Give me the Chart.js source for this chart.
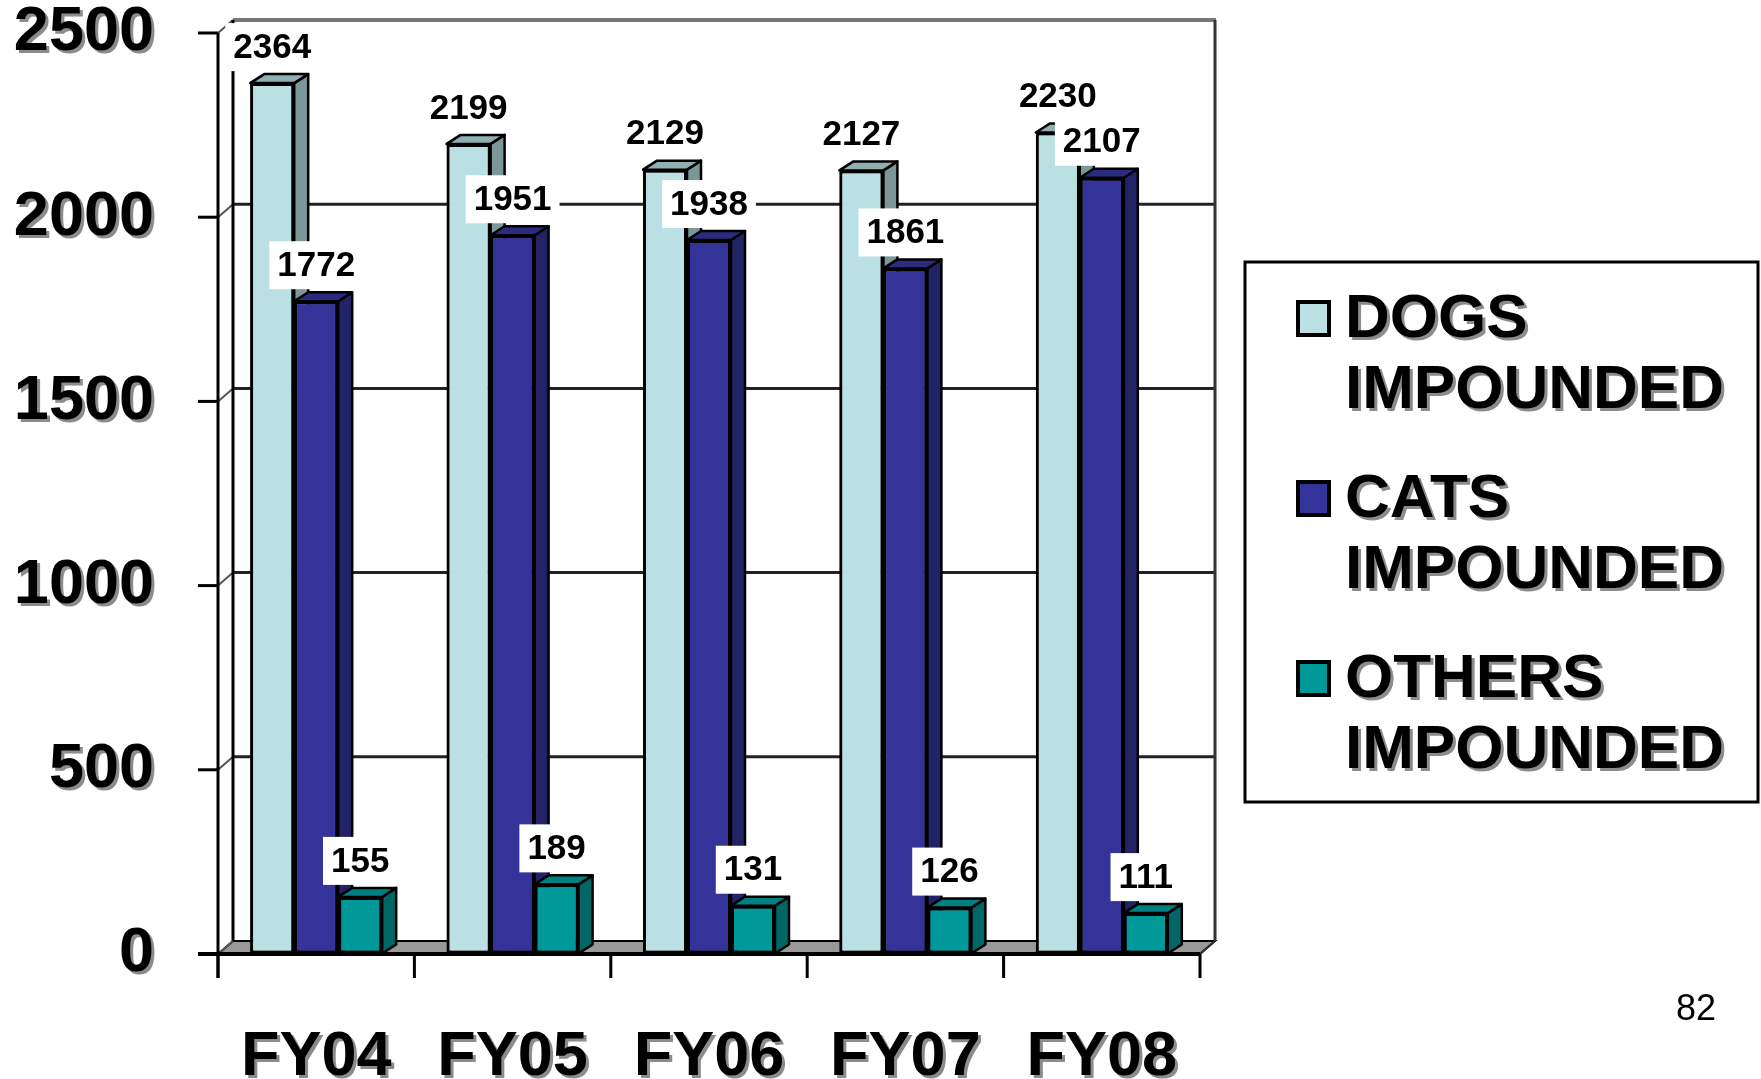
<!DOCTYPE html>
<html>
<head>
<meta charset="utf-8">
<script src="https://cdn.jsdelivr.net/npm/chart.js@4.4.0/dist/chart.umd.min.js"></script>
<style>
  html, body { margin: 0; padding: 0; background: #fff; }
  #wrap { position: absolute; left: 0; top: 0; width: 1761px; height: 1079px; }
</style>
</head>
<body>
<div id="wrap"><canvas id="chart" width="1761" height="1079"></canvas></div>
<script>
// data
var years = ["FY04", "FY05", "FY06", "FY07", "FY08"];
var dogs = [2364, 2199, 2129, 2127, 2230];
var cats = [1772, 1951, 1938, 1861, 2107];
var others = [155, 189, 131, 126, 111];
var seriesNames = [["DOGS", "IMPOUNDED"], ["CATS", "IMPOUNDED"], ["OTHERS", "IMPOUNDED"]];
var yTicks = [0, 500, 1000, 1500, 2000, 2500];
var pageNumber = "82";

// colours: front face, side face, top face
var frontColors = ["#BBE0E3", "#333399", "#009999"];
var sideColors = ["#7B9797", "#222266", "#006666"];
var topColors = ["#8FAFB0", "#2B2B80", "#008080"];

var FONT = '"Liberation Sans", Arial, sans-serif';
var WALL_DX = 15, WALL_DY = -13;   // depth of the back wall
var BAR_DX = 14, BAR_DY = -9;      // depth of each bar

function noShadow(ctx) {
  ctx.shadowColor = "rgba(0,0,0,0)";
  ctx.shadowOffsetX = 0;
  ctx.shadowOffsetY = 0;
  ctx.shadowBlur = 0;
}
function grayShadow(ctx, d) {
  ctx.shadowColor = "#8c8c8c";
  ctx.shadowOffsetX = d;
  ctx.shadowOffsetY = d;
  ctx.shadowBlur = 0;
}
function line(ctx, x1, y1, x2, y2) {
  ctx.beginPath();
  ctx.moveTo(x1, y1);
  ctx.lineTo(x2, y2);
  ctx.stroke();
}

var threeD = {
  id: "threeD",
  beforeDraw: function (chart) {
    // axis labels get the old powerpoint drop shadow
    grayShadow(chart.ctx, 3);
  },
  beforeDatasetsDraw: function (chart) {
    var ctx = chart.ctx, a = chart.chartArea, ys = chart.scales.y, xs = chart.scales.x;
    noShadow(ctx);
    ctx.save();
    var L = a.left, R = a.right, B = ys.getPixelForValue(0), T = ys.getPixelForValue(2500);

    // floor
    ctx.fillStyle = "#999999";
    ctx.beginPath();
    ctx.moveTo(L, B); ctx.lineTo(R, B);
    ctx.lineTo(R + WALL_DX, B + WALL_DY); ctx.lineTo(L + WALL_DX, B + WALL_DY);
    ctx.closePath();
    ctx.fill();
    ctx.strokeStyle = "#000"; ctx.lineWidth = 2;
    ctx.stroke();

    // back wall grid lines + side wall diagonals
    yTicks.forEach(function (v) {
      var y = ys.getPixelForValue(v);
      if (v > 0 && v < 2500) {
        ctx.strokeStyle = "#222"; ctx.lineWidth = 3;
        line(ctx, L + WALL_DX, y + WALL_DY, R + WALL_DX, y + WALL_DY);
      }
      ctx.strokeStyle = "#555"; ctx.lineWidth = 2;
      line(ctx, L, y, L + WALL_DX, y + WALL_DY);
    });
    // top edge of back wall
    ctx.strokeStyle = "#777"; ctx.lineWidth = 4;
    line(ctx, L + WALL_DX, T + WALL_DY, R + WALL_DX + 1, T + WALL_DY);
    // back wall left and right edges
    ctx.strokeStyle = "#000"; ctx.lineWidth = 3;
    line(ctx, L + WALL_DX, T + WALL_DY, L + WALL_DX, B + WALL_DY);
    ctx.strokeStyle = "#333";
    line(ctx, R + WALL_DX, T + WALL_DY, R + WALL_DX, B + WALL_DY);
    ctx.lineWidth = 2;
    line(ctx, R, B, R + WALL_DX, B + WALL_DY);

    // front value axis with tick marks
    ctx.strokeStyle = "#000"; ctx.lineWidth = 3;
    line(ctx, L, T, L, B + 24);
    yTicks.forEach(function (v) {
      var y = ys.getPixelForValue(v);
      line(ctx, L - 20, y, L, y);
    });
    // front base line
    ctx.lineWidth = 4;
    line(ctx, L - 20, B, R, B);
    // category boundary ticks below the floor
    ctx.lineWidth = 3;
    for (var i = 0; i <= years.length; i++) {
      var x = xs.getPixelForValue(i - 0.5);
      line(ctx, x, B, x, B + 24);
    }
    ctx.restore();
  },
  afterDatasetsDraw: function (chart) {
    var ctx = chart.ctx, area = chart.chartArea;
    ctx.save();
    noShadow(ctx);
    // redraw the bars left to right so each one hides the side of its left neighbour
    chart.data.datasets.forEach(function (ds, k) {
      var meta = chart.getDatasetMeta(k);
      meta.data.forEach(function (el) {
        el.draw(ctx, area);
        var p = el.getProps(["x", "y", "base", "width"], true);
        var x0 = p.x - p.width / 2, x1 = p.x + p.width / 2;
        ctx.strokeStyle = "#000";
        ctx.lineWidth = 2.5;
        ctx.lineJoin = "round";
        // side face
        ctx.fillStyle = sideColors[k];
        ctx.beginPath();
        ctx.moveTo(x1, p.y); ctx.lineTo(x1 + BAR_DX, p.y + BAR_DY);
        ctx.lineTo(x1 + BAR_DX, p.base + BAR_DY); ctx.lineTo(x1, p.base);
        ctx.closePath(); ctx.fill(); ctx.stroke();
        // top face
        ctx.fillStyle = topColors[k];
        ctx.beginPath();
        ctx.moveTo(x0, p.y); ctx.lineTo(x0 + BAR_DX, p.y + BAR_DY);
        ctx.lineTo(x1 + BAR_DX, p.y + BAR_DY); ctx.lineTo(x1, p.y);
        ctx.closePath(); ctx.fill(); ctx.stroke();
      });
    });

    // value labels on white boxes
    ctx.font = "bold 35px " + FONT;
    ctx.textAlign = "center";
    ctx.textBaseline = "middle";
    chart.data.datasets.forEach(function (ds, k) {
      var meta = chart.getDatasetMeta(k);
      meta.data.forEach(function (el, i) {
        var txt = String(ds.data[i]);
        var w = ctx.measureText(txt).width + 16;
        var cy = el.y - 36;
        ctx.fillStyle = "#fff";
        ctx.fillRect(el.x - w / 2, cy - 24, w, 48);
        ctx.fillStyle = "#000";
        ctx.fillText(txt, el.x, cy + 1);
      });
    });
    ctx.restore();
  },
  afterDraw: function (chart) {
    var ctx = chart.ctx;
    ctx.save();
    noShadow(ctx);
    // legend box
    ctx.strokeStyle = "#000"; ctx.lineWidth = 3;
    ctx.strokeRect(1245, 262, 513, 540);
    ctx.textAlign = "left";
    ctx.textBaseline = "middle";
    seriesNames.forEach(function (name, k) {
      var yc = 318 + 180 * k;
      grayShadow(ctx, 2);
      ctx.fillStyle = frontColors[k];
      ctx.fillRect(1298, yc - 16, 31, 33);
      noShadow(ctx);
      ctx.lineWidth = 4; ctx.strokeStyle = "#000";
      ctx.strokeRect(1298, yc - 16, 31, 33);
      grayShadow(ctx, 3);
      ctx.fillStyle = "#000";
      ctx.font = "bold 62px " + FONT;
      ctx.fillText(name[0], 1345, yc + 2);
      ctx.fillText(name[1], 1345, yc + 73);
      noShadow(ctx);
    });
    // slide number
    ctx.font = "36px " + FONT;
    ctx.fillStyle = "#000";
    ctx.fillText(pageNumber, 1676, 1010);
    ctx.restore();
    noShadow(ctx);
  }
};

new Chart(document.getElementById("chart"), {
  type: "bar",
  plugins: [threeD],
  data: {
    labels: years,
    datasets: [
      { label: "DOGS IMPOUNDED", data: dogs },
      { label: "CATS IMPOUNDED", data: cats },
      { label: "OTHERS IMPOUNDED", data: others }
    ].map(function (ds, k) {
      ds.backgroundColor = frontColors[k];
      ds.borderColor = "#000";
      ds.borderWidth = 3;
      ds.borderSkipped = false;
      ds.categoryPercentage = 0.672;
      ds.barPercentage = 1.0;
      return ds;
    })
  },
  options: {
    responsive: false,
    devicePixelRatio: 1,
    animation: false,
    layout: { padding: { top: 33, right: 561, bottom: 0, left: 0 } },
    plugins: {
      legend: { display: false },
      tooltip: { enabled: false }
    },
    scales: {
      x: {
        ticks: {
          font: { family: FONT, size: 63, weight: "bold" },
          color: "#000",
          padding: 46,
          maxRotation: 0,
          autoSkip: false
        },
        grid: { display: true, drawOnChartArea: false, drawTicks: true, tickLength: 20, color: "rgba(0,0,0,0)" },
        border: { display: false },
        afterFit: function (s) { s.height = 125; s.paddingLeft = 0; s.paddingRight = 0; }
      },
      y: {
        min: 0,
        max: 2500,
        afterBuildTicks: function (s) { s.ticks = yTicks.map(function (v) { return { value: v }; }); },
        ticks: {
          font: { family: FONT, size: 63, weight: "bold" },
          color: "#000",
          padding: 44,
          callback: function (v) { return String(v); }
        },
        grid: { display: true, drawOnChartArea: false, drawTicks: true, tickLength: 20, color: "rgba(0,0,0,0)" },
        border: { display: false },
        afterFit: function (s) { s.width = 218; s.paddingTop = 0; s.paddingBottom = 0; }
      }
    }
  }
});
</script>
</body>
</html>
